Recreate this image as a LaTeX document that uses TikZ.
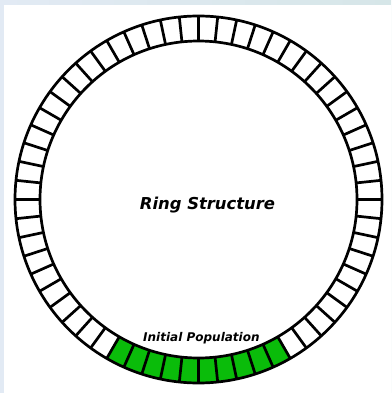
\documentclass[tikz,border=0pt]{standalone}
\usepackage{fontspec}
\setmainfont{DejaVu Sans}
\definecolor{popgreen}{RGB}{10,188,10}
\definecolor{frameL}{RGB}{226,234,244}
\definecolor{frameR}{RGB}{214,230,232}
\begin{document}
\begin{tikzpicture}[x=1pt,y=-1pt,
  ringline/.style={line width=2.7pt, black},
  labeltext/.style={font=\bfseries\itshape\fontsize{#1}{#1}\selectfont, inner sep=0pt, anchor=base}]
\useasboundingbox (0,0) rectangle (391,393);
\shade[left color=frameL, right color=frameR] (0,0) rectangle (391,393);
\fill[white] (4,5) rectangle (391,393);
\coordinate (c) at (198.5,199.5);
% initial population segments (visual bottom = angle 90 with flipped y)
\fill[popgreen] ([shift={(60:183.5)}]c) arc[start angle=60,end angle=120,radius=183.5]
  -- ([shift={(120:158.5)}]c) arc[start angle=120,end angle=60,radius=158.5] -- cycle;
\draw[ringline] (c) circle[radius=183.5];
\draw[ringline] (c) circle[radius=158.5];
\foreach \a in {0,6,...,354}
  \draw[ringline] ([shift={(\a:158.5)}]c) -- ([shift={(\a:183.5)}]c);
\node[labeltext=16.4] (title) at (207.5,209.5) {Ring Structure};
\node[labeltext=12] (pop) at (201.4,341) {Initial Population};
\end{tikzpicture}
\end{document}
